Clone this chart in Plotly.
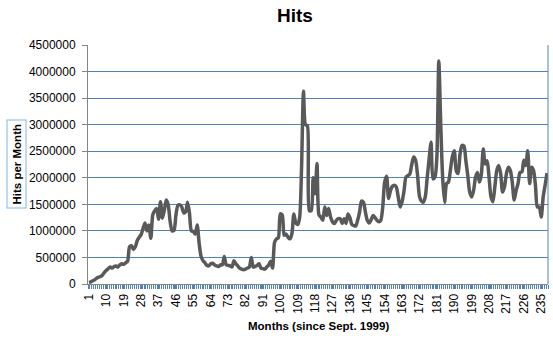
import plotly.graph_objects as go

months = list(range(1, 239))
hits = [
    30000, 40000, 60000, 80000, 110000, 130000, 140000, 170000, 220000, 260000,
    290000, 320000, 300000, 330000, 340000, 320000, 360000, 380000, 370000, 400000,
    430000, 700000, 720000, 650000, 700000, 820000, 880000, 930000, 1050000, 1150000,
    1000000, 1110000, 860000, 1300000, 1380000, 1420000, 1220000, 1550000, 1240000, 1390000,
    1580000, 1490000, 1175000, 1000000, 1010000, 1300000, 1480000, 1490000, 1450000, 1340000,
    1360000, 1540000, 1330000, 1000000, 990000, 940000, 1110000, 770000, 520000, 440000,
    400000, 350000, 340000, 380000, 390000, 360000, 340000, 330000, 360000, 360000,
    520000, 360000, 350000, 340000, 320000, 440000, 380000, 340000, 300000, 280000,
    270000, 280000, 300000, 320000, 500000, 320000, 330000, 350000, 380000, 300000,
    290000, 280000, 320000, 360000, 430000, 300000, 780000, 850000, 870000, 1320000,
    1300000, 920000, 940000, 880000, 850000, 950000, 1320000, 1150000, 1120000, 1250000,
    2200000, 3630000, 3000000, 2980000, 1380000, 1380000, 2000000, 1700000, 2270000, 1300000,
    1260000, 1200000, 1450000, 1290000, 1420000, 1260000, 1170000, 1140000, 1200000, 1230000,
    1230000, 1140000, 1230000, 1140000, 1320000, 1250000, 1120000, 1100000, 1090000, 1200000,
    1350000, 1560000, 1540000, 1360000, 1200000, 1150000, 1210000, 1290000, 1250000, 1200000,
    1170000, 1200000, 1450000, 1920000, 2030000, 1610000, 1760000, 1840000, 1860000, 1830000,
    1640000, 1450000, 1550000, 1750000, 2010000, 2040000, 2070000, 2250000, 2390000, 2330000,
    2050000, 1650000, 1560000, 1540000, 1640000, 2000000, 2360000, 2670000, 1980000, 2010000,
    2390000, 4200000, 3010000, 2000000, 1540000, 1890000, 1920000, 2140000, 2400000, 2510000,
    2140000, 2080000, 2450000, 2610000, 2600000, 2320000, 2040000, 1730000, 1640000, 1760000,
    2010000, 2100000, 1920000, 2060000, 2540000, 2260000, 2320000, 2010000, 1640000, 1550000,
    1830000, 2140000, 2230000, 2080000, 1730000, 1830000, 2080000, 2200000, 2140000, 1920000,
    1580000, 1760000, 1890000, 2100000, 2110000, 2330000, 2230000, 2510000, 1890000, 2200000,
    2140000, 1860000, 1450000, 1450000, 1260000, 1640000, 1860000, 2090000,
]
x_tick_vals = list(range(1, 239, 9))
x_tick_text = [str(v) for v in x_tick_vals]
y_tick_vals = list(range(0, 4500001, 500000))
y_tick_text = [str(v) for v in y_tick_vals]

GRID = "#4F81BD"
AXIS = "#868686"
FONT = "Liberation Sans, Arial, sans-serif"

fig = go.Figure()
fig.add_trace(go.Scatter(
    x=months, y=hits, mode="lines",
    line=dict(color="#595959", width=3.5, shape="spline", smoothing=0.7),
    hoverinfo="skip", showlegend=False,
))

fig.update_layout(
    width=553, height=339,
    margin=dict(l=88, r=5, t=45, b=55),
    paper_bgcolor="white", plot_bgcolor="white",
    font=dict(family=FONT, size=12, color="black"),
    title=dict(text="<b>Hits</b>", x=295/553, xanchor="center", xref="container",
               y=1 - 15/339, yanchor="middle", yref="container",
               font=dict(family=FONT, size=19, color="black")),
    showlegend=False,
)

fig.update_xaxes(
    range=[0.5, 238.5], tickmode="array", tickvals=x_tick_vals, ticktext=x_tick_text,
    tickangle=-90, ticks="outside", ticklen=4, tickcolor=GRID, tickwidth=1,
    minor=dict(ticks="outside", ticklen=4, tickcolor=GRID, dtick=1, tick0=0.5, showgrid=False),
    showline=True, linecolor=AXIS, linewidth=1, showgrid=False, zeroline=False,
    tickfont=dict(family=FONT, size=12, color="black"),
)
fig.update_yaxes(
    range=[0, 4500000], tickmode="array", tickvals=y_tick_vals, ticktext=y_tick_text,
    ticks="outside", ticklen=5, tickcolor=AXIS, showline=True, linecolor=AXIS, linewidth=1,
    showgrid=True, gridcolor=GRID, gridwidth=1, zeroline=False, ticklabelstandoff=4,
    tickfont=dict(family=FONT, size=12, color="black"),
)

# right-hand plot-area border
fig.add_shape(type="line", xref="paper", yref="paper", x0=1, x1=1, y0=0, y1=1,
              line=dict(color=GRID, width=1))

fig.add_annotation(text="<b>Months (since Sept. 1999)</b>", xref="paper", yref="paper",
                   x=0.5, y=(284 - 326) / 239, xanchor="center", yanchor="middle",
                   showarrow=False, font=dict(family=FONT, size=11.5, color="black"))
fig.add_annotation(text="<b>Hits per Month</b>", xref="paper", yref="paper",
                   x=(16 - 88) / 460, y=0.5, xanchor="center", yanchor="middle",
                   textangle=-90, showarrow=False, bordercolor="#7FB8E0", borderwidth=1,
                   borderpad=3, font=dict(family=FONT, size=11.5, color="black"))

fig.write_html("out.html")
